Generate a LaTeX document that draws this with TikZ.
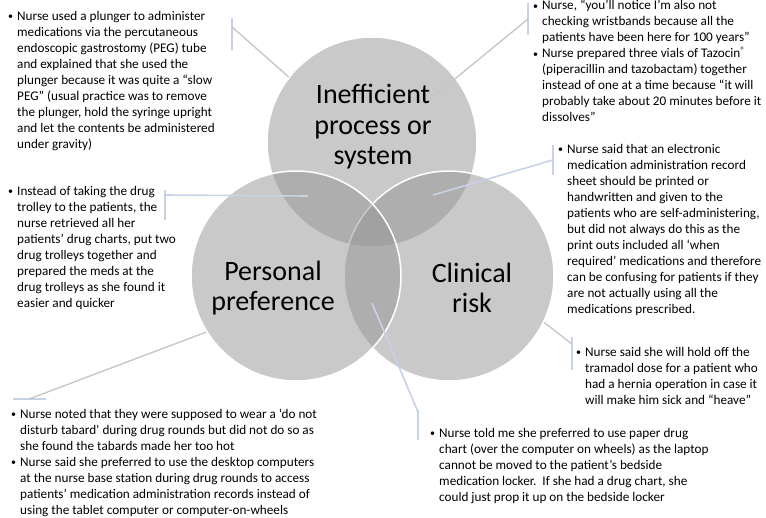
\documentclass[tikz,border=0pt]{standalone}
\usepackage{fontspec}
\setmainfont{Carlito}
\newcommand{\bulpt}{\makebox[9pt][l]{\raisebox{0.9pt}{\fontsize{10}{10}\selectfont\textbullet}}}
\newcommand{\indpt}{\makebox[9pt]{}}
\definecolor{leadgray}{HTML}{C4C4C4}
\definecolor{barblue}{HTML}{C8D2E6}
\tikzset{
  venn/.style={circle,minimum size=210pt,inner sep=0pt,draw=white,line width=1.5pt,fill=black!42,fill opacity=0.5},
  venntext/.style={align=center,font=\fontsize{28}{30.5}\selectfont},
  note/.style={anchor=north west,inner sep=0pt,align=left,font=\fontsize{13.2}{16}\selectfont},
  leader/.style={leadgray,line width=1.3pt},
  blueleader/.style={barblue,line width=1.6pt},
  barline/.style={barblue,line width=1.6pt}
}
\begin{document}
\begin{tikzpicture}[x=1pt,y=-1pt]
\useasboundingbox (0,0) rectangle (766,517);
\node[venn] (ineff) at (372,142) {};
\node[venn] (clin) at (449,276) {};
\node[venn] (pers) at (296,276) {};
\coordinate (b1t) at (232,18);  \coordinate (b1b) at (232,50);  \coordinate (j1) at (232,27);
\coordinate (b2t) at (528,3);   \coordinate (b2b) at (528,35);  \coordinate (j2) at (528,19);
\coordinate (b3t) at (165,190); \coordinate (b3b) at (165,220); \coordinate (j3) at (165,195);
\coordinate (b4t) at (553,145); \coordinate (b4b) at (553,175); \coordinate (j4) at (553,160);
\coordinate (b5t) at (572,337); \coordinate (b5b) at (572,370); \coordinate (j5) at (572,344);
\coordinate (b6t) at (13,399);  \coordinate (b6b) at (46,399);  \coordinate (j6) at (29,399);
\coordinate (b7t) at (418,410); \coordinate (b7b) at (418,440); \coordinate (j7) at (418,412);
\coordinate (e2) at (428,101);
\coordinate (e3) at (308,196);
\coordinate (e4) at (433,195);
\coordinate (e7) at (372,303);
\foreach \n in {1,...,7}
  \draw[barline] (b\n t) -- (b\n b);
\draw[leader] (j1) -- (ineff.142);
\draw[leader] (j2) -- (e2);
\draw[blueleader] (j3) -- (e3);
\draw[blueleader] (j4) -- (e4);
\draw[leader] (j5) -- (clin.-26);
\draw[leader] (j6) -- (pers.212);
\draw[blueleader] (j7) -- (e7);
\node[venntext] (ineffl) at (373,127) {Inefficient\\process or\\system};
\node[venntext] (persl) at (273,288) {Personal\\preference};
\node[venntext] (clinl) at (472,288) {Clinical\\risk};
\node[note] (n1) at (8,8.8) {\strut\bulpt Nurse used a plunger to administer\\
  \indpt medications via the percutaneous\\
  \indpt endoscopic gastrostomy (PEG) tube\\
  \indpt and explained that she used the\\
  \indpt plunger because it was quite a “slow\\
  \indpt PEG” (usual practice was to remove\\
  \indpt the plunger, hold the syringe upright\\
  \indpt and let the contents be administered\\
  \indpt under gravity)};
\node[note] (n2) at (533,-1.5) {\strut\bulpt Nurse, “you’ll notice I’m also not\\
  \indpt checking wristbands because all the\\
  \indpt patients have been here for 100 years”\\
  \bulpt Nurse prepared three vials of Tazocin\textsuperscript{®}\\
  \indpt (piperacillin and tazobactam) together\\
  \indpt instead of one at a time because “it will\\
  \indpt probably take about 20 minutes before it\\
  \indpt dissolves”};
\node[note] (n3) at (8,184) {\strut\bulpt Instead of taking the drug\\
  \indpt trolley to the patients, the\\
  \indpt nurse retrieved all her\\
  \indpt patients’ drug charts, put two\\
  \indpt drug trolleys together and\\
  \indpt prepared the meds at the\\
  \indpt drug trolleys as she found it\\
  \indpt easier and quicker};
\node[note] (n4) at (558,142) {\strut\bulpt Nurse said that an electronic\\
  \indpt medication administration record\\
  \indpt sheet should be printed or\\
  \indpt handwritten and given to the\\
  \indpt patients who are self-administering,\\
  \indpt but did not always do this as the\\
  \indpt print outs included all ‘when\\
  \indpt required’ medications and therefore\\
  \indpt can be confusing for patients if they\\
  \indpt are not actually using all the\\
  \indpt medications prescribed.};
\node[note] (n5) at (576,345) {\strut\bulpt Nurse said she will hold off the\\
  \indpt tramadol dose for a patient who\\
  \indpt had a hernia operation in case it\\
  \indpt will make him sick and “heave”};
\node[note] (n6) at (11,407) {\strut\bulpt Nurse noted that they were supposed to wear a ‘do not\\
  \indpt disturb tabard’ during drug rounds but did not do so as\\
  \indpt she found the tabards made her too hot\\
  \bulpt Nurse said she preferred to use the desktop computers\\
  \indpt at the nurse base station during drug rounds to access\\
  \indpt patients’ medication administration records instead of\\
  \indpt using the tablet computer or computer-on-wheels};
\node[note] (n7) at (430,426) {\strut\bulpt Nurse told me she preferred to use paper drug\\
  \indpt chart (over the computer on wheels) as the laptop\\
  \indpt cannot be moved to the patient’s bedside\\
  \indpt medication locker.\ \ If she had a drug chart, she\\
  \indpt could just prop it up on the bedside locker};
\end{tikzpicture}
\end{document}
